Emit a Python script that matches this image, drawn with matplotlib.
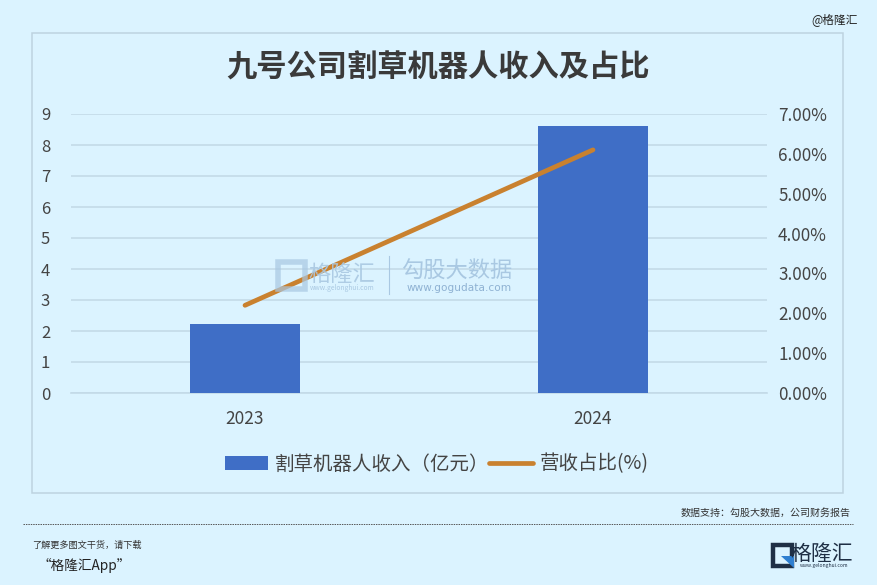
import matplotlib
matplotlib.use("Agg")
import matplotlib.pyplot as plt
from matplotlib.patches import Rectangle, Polygon

plt.rcParams['font.family'] = ['Noto Sans CJK SC', 'DejaVu Sans']

categories = ['2023', '2024']
revenue = [2.23, 8.61]
share = [2.2, 6.1]
left_ticks = list(range(10))
right_ticks = list(range(8))
title = '九号公司割草机器人收入及占比'
bar_label = '割草机器人收入（亿元）'
line_label = '营收占比(%)'

W, H = 877, 585
BG = '#DBF3FF'
fig = plt.figure(figsize=(W / 100, H / 100), dpi=100, facecolor=BG)

def fx(x): return x / W
def fy(y): return 1 - y / H

# chart frame
fig.add_artist(Rectangle((fx(32), fy(493)), 811 / W, 460 / H, transform=fig.transFigure,
                         fc='none', ec='#BDD3E0', lw=1.1))

ax = fig.add_axes([fx(71), fy(393), 696 / W, 279 / H], facecolor='none')
ax2 = ax.twinx()
ax2.patch.set_visible(False)
x = list(range(len(categories)))
bars = ax.bar(x, revenue, width=0.316, color='#3F6EC6', zorder=3, label=bar_label)
ln, = ax2.plot(x, share, color='#C9812F', lw=3.4, solid_capstyle='round', zorder=4, label=line_label)

ax.set_xlim(-0.5, 1.5)
ax.set_ylim(0, 9)
ax2.set_ylim(0, 7)
ax.set_xticks(x, categories)
ax.set_yticks(left_ticks)
ax2.set_yticks(right_ticks, [f'{v:.2f}%' for v in right_ticks])
ax.grid(axis='y', color='#C3DAE8', lw=1.2, zorder=0)
ax.set_axisbelow(True)
for a in (ax, ax2):
    for s in a.spines.values():
        s.set_visible(False)
    a.tick_params(length=0, labelsize=12, labelcolor='#444444')
ax.spines['bottom'].set_visible(True)
ax.spines['bottom'].set_color('#C3DAE8')
ax.spines['bottom'].set_linewidth(1.2)
ax.tick_params(axis='x', labelsize=12.5, pad=12)
ax.tick_params(axis='y', pad=15)
ax2.tick_params(axis='y', pad=8, labelsize=12.3)

# title
fig.text(fx(438), fy(68), title, fontsize=21.8, fontweight='bold', color='#3A3A3A',
         ha='center', va='center')

# legend
fig.legend([bars, ln], [bar_label, line_label], loc='center', bbox_to_anchor=(fx(436.5), fy(464)),
           ncol=2, frameon=False, fontsize=14, labelcolor='#444444', columnspacing=-0.05,
           handlelength=2.25, handletextpad=0.35)

# watermark
wm = '#A9C8E2'
fig.add_artist(Rectangle((fx(278), fy(289)), 27 / W, 27 / H, transform=fig.transFigure,
                         fc='none', ec=wm, lw=4, alpha=0.7))
fig.text(fx(342), fy(274), '格隆汇', fontsize=16, color=wm, ha='center', va='center', alpha=0.9)
fig.text(fx(342), fy(288), 'www.gelonghui.com', fontsize=4.8, color=wm, ha='center', va='center')
fig.add_artist(plt.Line2D([fx(389), fx(389)], [fy(256), fy(294)], color=wm, lw=0.8))
fig.text(fx(457), fy(271), '勾股大数据', fontsize=16, color=wm, ha='center', va='center')
fig.text(fx(459), fy(288), 'www.gogudata.com', fontsize=7.6, color='#8FB2D3', ha='center',
         va='center', fontfamily='DejaVu Sans')

# top credit
fig.text(fx(811), fy(20), '@格隆汇', fontsize=8.5, color='#222222', ha='left', va='center')

# footer
fig.text(fx(851), fy(513), '数据支持：勾股大数据，公司财务报告', fontsize=7.2, color='#333333',
         ha='right', va='center')
fig.add_artist(plt.Line2D([fx(23), fx(853)], [fy(523.5), fy(523.5)], color='#555555', lw=0.7,
                          ls=(0, (1.5, 1))))
fig.text(fx(32), fy(545), '了解更多图文干货，请下载', fontsize=6.6, color='#333333', ha='left',
         va='center', style='italic')
fig.text(fx(37), fy(565), '“格隆汇App”', fontsize=9.8, color='#222222', ha='left', va='center',
         style='italic')

# logo
fig.add_artist(Rectangle((fx(773), fy(566)), 19 / W, 21 / H, transform=fig.transFigure,
                         fc='none', ec='#1F2F45', lw=3.2))
fig.add_artist(Polygon([[fx(781), fy(556)], [fx(794), fy(556)], [fx(794), fy(568)]],
                       closed=True, transform=fig.transFigure, fc='#2F7FD0', ec='none'))
fig.text(fx(822), fy(554), '格隆汇', fontsize=15, color='#1F2F45', ha='center', va='center')
fig.text(fx(824), fy(566), 'www.gelonghui.com', fontsize=3.6, color='#1F2F45', ha='center',
         va='center')

fig.savefig('out.png', dpi=100, facecolor=BG)
